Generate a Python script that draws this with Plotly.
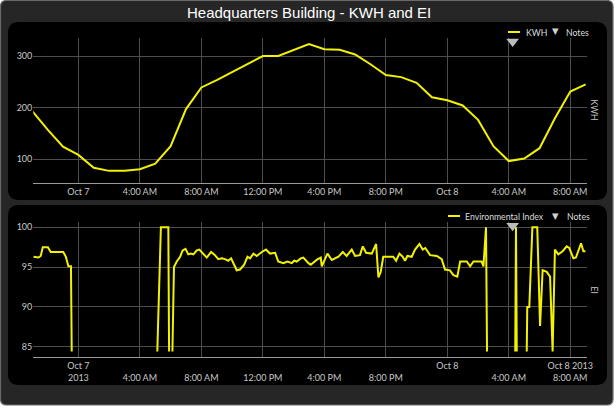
import plotly.graph_objects as go
import pandas as pd

W, H = 616, 411

# ---------------- data ----------------
title_text = "Headquarters Building - KWH and EI"

kwh_start = "2013-10-06 21:00"
kwh_values = [193, 157, 124,
              108, 83, 77, 77, 80, 91, 125, 197, 239, 253, 269, 284,
              300, 300, 312, 323, 313, 312, 303, 284, 263, 259, 248, 220,
              214, 204, 176, 125, 96, 101, 121, 179, 231, 245]

ei_times = [
    "2013-10-06 21:04", "2013-10-06 21:24", "2013-10-06 21:33", "2013-10-06 21:41",
    "2013-10-06 22:01", "2013-10-06 22:12", "2013-10-06 23:01", "2013-10-06 23:11",
    "2013-10-06 23:21", "2013-10-06 23:31", "2013-10-06 23:34", "2013-10-07 02:00",
    "2013-10-07 05:08", "2013-10-07 05:22", "2013-10-07 05:51", "2013-10-07 05:54",
    "2013-10-07 06:00", "2013-10-07 06:07", "2013-10-07 06:13", "2013-10-07 06:24",
    "2013-10-07 06:37", "2013-10-07 06:47", "2013-10-07 06:58", "2013-10-07 07:09",
    "2013-10-07 07:19", "2013-10-07 07:29", "2013-10-07 07:42", "2013-10-07 07:52",
    "2013-10-07 08:08", "2013-10-07 08:21", "2013-10-07 08:38", "2013-10-07 08:53",
    "2013-10-07 09:06", "2013-10-07 09:20", "2013-10-07 09:32", "2013-10-07 09:45",
    "2013-10-07 09:56", "2013-10-07 10:05", "2013-10-07 10:18", "2013-10-07 10:31",
    "2013-10-07 10:47", "2013-10-07 11:00", "2013-10-07 11:10", "2013-10-07 11:23",
    "2013-10-07 11:36", "2013-10-07 11:56", "2013-10-07 12:12", "2013-10-07 12:28",
    "2013-10-07 12:48", "2013-10-07 13:00", "2013-10-07 13:20", "2013-10-07 13:36",
    "2013-10-07 13:53", "2013-10-07 14:02", "2013-10-07 14:12", "2013-10-07 14:28",
    "2013-10-07 14:38", "2013-10-07 14:58", "2013-10-07 15:07", "2013-10-07 15:30",
    "2013-10-07 15:46", "2013-10-07 15:50", "2013-10-07 16:03", "2013-10-07 16:12",
    "2013-10-07 16:29", "2013-10-07 16:42", "2013-10-07 16:55", "2013-10-07 17:12",
    "2013-10-07 17:27", "2013-10-07 17:47", "2013-10-07 18:00", "2013-10-07 18:19",
    "2013-10-07 18:30", "2013-10-07 18:43", "2013-10-07 19:05", "2013-10-07 19:22",
    "2013-10-07 19:31", "2013-10-07 19:40", "2013-10-07 19:50", "2013-10-07 20:29",
    "2013-10-07 20:40", "2013-10-07 20:53", "2013-10-07 21:06", "2013-10-07 21:15",
    "2013-10-07 21:24", "2013-10-07 21:41", "2013-10-07 21:54", "2013-10-07 22:11",
    "2013-10-07 22:24", "2013-10-07 22:34", "2013-10-07 22:53", "2013-10-07 23:19",
    "2013-10-07 23:38", "2013-10-07 23:51", "2013-10-08 00:10", "2013-10-08 00:24",
    "2013-10-08 00:39", "2013-10-08 00:50", "2013-10-08 01:16", "2013-10-08 01:29",
    "2013-10-08 01:42", "2013-10-08 02:14", "2013-10-08 02:21", "2013-10-08 02:31",
    "2013-10-08 02:35", "2013-10-08 03:30", "2013-10-08 04:25", "2013-10-08 04:28",
    "2013-10-08 04:31", "2013-10-08 04:50", "2013-10-08 05:10", "2013-10-08 05:12",
    "2013-10-08 05:20", "2013-10-08 05:32", "2013-10-08 05:51", "2013-10-08 06:02",
    "2013-10-08 06:12", "2013-10-08 06:28", "2013-10-08 06:41", "2013-10-08 06:51",
    "2013-10-08 07:00", "2013-10-08 07:13", "2013-10-08 07:30", "2013-10-08 07:46",
    "2013-10-08 07:56", "2013-10-08 08:12", "2013-10-08 08:22", "2013-10-08 08:34",
    "2013-10-08 08:42", "2013-10-08 08:51", "2013-10-08 08:59",
]
ei_values = [
    96.3, 96.2, 96.4, 97.5,
    97.5, 96.9, 96.9, 96.3,
    95.1, 95.1, 84.4, None,
    84.4, 100, 100, 84.4,
    None, 84.4, 95.0, 95.7,
    96.3, 97.1, 97.3, 96.6,
    96.7, 96.6, 97.1, 97.2,
    96.7, 96.2, 96.9, 96.5,
    96.0, 96.1, 96.0, 95.8,
    96.1, 95.5, 94.6, 94.7,
    95.3, 96.3, 96.1, 96.7,
    96.4, 96.9, 97.2, 96.7,
    96.8, 95.7, 95.5, 95.7,
    95.5, 95.8, 95.7, 96.1,
    96.2, 95.5, 95.3, 95.9,
    96.2, 95.1, 96.0, 96.7,
    95.9, 96.1, 96.3, 96.9,
    96.4, 97.2, 96.4, 96.5,
    97.6, 96.8, 96.7, 97.9,
    93.7, 94.4, 96.3, 96.3,
    95.8, 96.7, 96.3, 95.8,
    96.4, 96.3, 97.2, 97.9,
    97.2, 97.4, 96.5, 96.4,
    96.0, 94.7, 94.6, 94.0,
    93.8, 95.7, 95.7, 95.1,
    95.7, 95.7, 95.1, 100,
    84.4, None, 84.4, 100,
    84.4, None, 84.4, 90.0,
    90.0, 100, 100, 87.6,
    94.6, 94.4, 93.8, 84.4,
    97.2, 96.6, 97.0, 97.6,
    97.4, 96.1, 96.2, 97.2,
    98.0, 97.0, 97.0,
]

note_times = ["2013-10-08 04:15"]
note_kwh_y = [328]
note_ei_y = [100.2]

tick_vals = ["2013-10-07 00:00", "2013-10-07 04:00", "2013-10-07 08:00",
             "2013-10-07 12:00", "2013-10-07 16:00", "2013-10-07 20:00",
             "2013-10-08 00:00", "2013-10-08 04:00", "2013-10-08 08:00"]
top_tick_text = ["Oct 7", "4:00 AM", "8:00 AM", "12:00 PM", "4:00 PM",
                 "8:00 PM", "Oct 8", "4:00 AM", "8:00 AM"]
NB = "\u00a0"
bottom_tick_text = ["Oct 7<br>2013", NB + "<br>4:00 AM", NB + "<br>8:00 AM",
                    NB + "<br>12:00 PM", NB + "<br>4:00 PM", NB + "<br>8:00 PM",
                    "Oct 8", NB + "<br>4:00 AM", "Oct 8 2013<br>8:00 AM"]

x_range = ["2013-10-06 21:04", "2013-10-08 09:04"]
kwh_range = [54, 334.4]
ei_range = [83.67, 100.63]
kwh_ticks = [100, 200, 300]
ei_ticks = [85, 90, 95, 100]

# ---------------- styling ----------------
YEL = "#f2f200"
GRID = "#4d4d4d"
AXL = "#9a9a9a"
TXT = "#c8c8c8"
TICKFONT = dict(family="Lato, Noto Sans, sans-serif", size=9, color=TXT)

def px(x):
    return x / W

def py(y):
    return 1 - y / H

def rrect(x0, y0, x1, y1, r):
    pts = [
        f"M {px(x0 + r)},{py(y0)}", f"L {px(x1 - r)},{py(y0)}",
        f"Q {px(x1)},{py(y0)} {px(x1)},{py(y0 + r)}", f"L {px(x1)},{py(y1 - r)}",
        f"Q {px(x1)},{py(y1)} {px(x1 - r)},{py(y1)}", f"L {px(x0 + r)},{py(y1)}",
        f"Q {px(x0)},{py(y1)} {px(x0)},{py(y1 - r)}", f"L {px(x0)},{py(y0 + r)}",
        f"Q {px(x0)},{py(y0)} {px(x0 + r)},{py(y0)}", "Z",
    ]
    return " ".join(pts)

kwh_times = pd.date_range(kwh_start, periods=len(kwh_values), freq="h")

fig = go.Figure()
fig.add_trace(go.Scatter(x=kwh_times, y=kwh_values, mode="lines", name="KWH",
                         line=dict(color=YEL, width=2), xaxis="x", yaxis="y",
                         showlegend=False))
fig.add_trace(go.Scatter(x=note_times, y=note_kwh_y, mode="markers", name="Notes",
                         marker=dict(symbol="triangle-down", size=11, color="#bcbcbc"),
                         xaxis="x", yaxis="y", cliponaxis=False, showlegend=False))
fig.add_trace(go.Scatter(x=ei_times, y=ei_values, mode="lines", name="Environmental Index",
                         line=dict(color=YEL, width=2), connectgaps=False,
                         xaxis="x2", yaxis="y2", showlegend=False))
fig.add_trace(go.Scatter(x=note_times, y=note_ei_y, mode="markers", name="Notes",
                         marker=dict(symbol="triangle-down", size=11, color="#bcbcbc"),
                         xaxis="x2", yaxis="y2", cliponaxis=False, showlegend=False))

xdom = [33.3 / W, 586.7 / W]
axcommon = dict(type="date", range=x_range, tickvals=tick_vals, showgrid=True,
                gridcolor=GRID, gridwidth=1, showline=True, linecolor=AXL, linewidth=1,
                ticks="", zeroline=False, tickfont=TICKFONT, tickangle=0,
                domain=xdom, automargin=False, fixedrange=True)
fig.update_layout(
    xaxis=dict(**axcommon, ticktext=top_tick_text, anchor="y"),
    yaxis=dict(domain=[1 - 182.7 / H, 1 - 38.3 / H], range=kwh_range, tickvals=kwh_ticks,
               showgrid=True, gridcolor=GRID, showline=False, zeroline=False, ticks="",
               tickfont=TICKFONT, anchor="x", automargin=False, fixedrange=True),
    xaxis2=dict(**axcommon, ticktext=bottom_tick_text, anchor="y2"),
    yaxis2=dict(domain=[1 - 357.3 / H, 1 - 222.3 / H], range=ei_range, tickvals=ei_ticks,
                showgrid=True, gridcolor=GRID, showline=False, zeroline=False, ticks="",
                tickfont=TICKFONT, anchor="x2", automargin=False, fixedrange=True),
    width=W, height=H,
    margin=dict(l=0, r=0, t=0, b=0, pad=0),
    paper_bgcolor="#ffffff",
    plot_bgcolor="rgba(0,0,0,0)",
    showlegend=False,
)

shapes = [
    dict(type="path", path=rrect(0.5, 0.5, 613, 405, 6), xref="paper", yref="paper",
         fillcolor="#262626", line=dict(color="#6a6a6a", width=1.2), layer="below"),
    dict(type="path", path=rrect(8, 22, 607, 200, 11), xref="paper", yref="paper",
         fillcolor="#000000", line=dict(width=0), layer="below"),
    dict(type="path", path=rrect(8, 205, 607, 385, 11), xref="paper", yref="paper",
         fillcolor="#000000", line=dict(width=0), layer="below"),
    # legend line samples
    dict(type="line", xref="paper", yref="paper", x0=px(508), x1=px(520), y0=py(32), y1=py(32),
         line=dict(color=YEL, width=2)),
    dict(type="line", xref="paper", yref="paper", x0=px(448), x1=px(460), y0=py(216), y1=py(216),
         line=dict(color=YEL, width=2)),
]
fig.update_layout(shapes=shapes)

LEGFONT = dict(family="Lato, Noto Sans, sans-serif", size=8.7, color="#dcdcdc")
TRI = dict(family="DejaVu Sans", size=8.5, color="#d0d0d0")
ann = [
    dict(text=title_text, x=px(308.5), y=py(12.5), xref="paper", yref="paper",
         showarrow=False, xanchor="center", yanchor="middle",
         font=dict(family="Liberation Sans, Arial, sans-serif", size=15, color="#ffffff")),
    dict(text="KWH", x=px(523.5), y=py(32), xref="paper", yref="paper", showarrow=False,
         xanchor="left", yanchor="middle", font=LEGFONT),
    dict(text="▼", x=px(555), y=py(31.5), xref="paper", yref="paper", showarrow=False,
         xanchor="center", yanchor="middle", font=TRI),
    dict(text="Notes", x=px(563.5), y=py(32), xref="paper", yref="paper", showarrow=False,
         xanchor="left", yanchor="middle", font=LEGFONT),
    dict(text="Environmental Index", x=px(462.5), y=py(216), xref="paper", yref="paper",
         showarrow=False, xanchor="left", yanchor="middle", font=LEGFONT),
    dict(text="▼", x=px(555), y=py(215.5), xref="paper", yref="paper", showarrow=False,
         xanchor="center", yanchor="middle", font=TRI),
    dict(text="Notes", x=px(564.5), y=py(216), xref="paper", yref="paper", showarrow=False,
         xanchor="left", yanchor="middle", font=LEGFONT),
    dict(text="KWH", x=px(593.5), y=py(110), xref="paper", yref="paper", showarrow=False,
         textangle=90, xanchor="center", yanchor="middle",
         font=dict(family="Lato, Noto Sans, sans-serif", size=8.5, color=TXT)),
    dict(text="EI", x=px(593.5), y=py(290), xref="paper", yref="paper", showarrow=False,
         textangle=90, xanchor="center", yanchor="middle",
         font=dict(family="Lato, Noto Sans, sans-serif", size=8.5, color=TXT)),
]
fig.update_layout(annotations=ann)

fig.write_html("out.html", config={"displayModeBar": False, "staticPlot": True},
               post_script="document.body.style.margin='0';document.body.style.overflow='hidden';")
